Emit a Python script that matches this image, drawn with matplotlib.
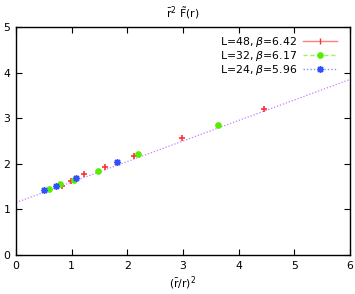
import matplotlib
matplotlib.use("Agg")
import matplotlib.pyplot as plt
import numpy as np
from matplotlib.lines import Line2D

# data
x48 = [0.83, 0.98, 1.23, 1.60, 2.12, 2.98, 4.46]
y48 = [1.52, 1.63, 1.77, 1.93, 2.18, 2.56, 3.21]
x32 = [0.60, 0.79, 1.04, 1.47, 2.19, 3.63]
y32 = [1.45, 1.56, 1.65, 1.85, 2.21, 2.85]
x24 = [0.51, 0.72, 1.08, 1.81]
y24 = [1.42, 1.52, 1.68, 2.03]
fit_intercept = 1.15
fit_slope = 0.45
labels = ["L=48, $\\beta$=6.42", "L=32, $\\beta$=6.17", "L=24, $\\beta$=5.96"]

plt.rcParams['font.family'] = ['DejaVu Sans']
plt.rcParams['mathtext.fontset'] = 'dejavusans'

fig = plt.figure(figsize=(3.55, 2.94), dpi=100)
ax = fig.add_axes([16/355, 1-255/294, (350-16)/355, (255-27)/294])

xl = np.array([0, 6])
ax.plot(xl, fit_intercept + fit_slope*xl, linestyle=(0, (1, 1.5)), color='#c080ff', lw=0.9, zorder=1)

red = '#ff3030'
green = '#55ee00'
blue = '#3050ff'
ax.errorbar(x48, y48, yerr=0.015, fmt='none', ecolor='#ff8080', capsize=0, zorder=2)
ax.plot(x48, y48, linestyle='none', marker='+', color=red, ms=5, mew=1.2, zorder=3)
ax.errorbar(x32, y32, yerr=0.015, fmt='none', ecolor='#a0f060', capsize=0, zorder=2)
ax.plot(x32, y32, linestyle='none', marker='o', color=green, ms=3.8, zorder=3)
ax.errorbar(x24, y24, yerr=0.015, fmt='none', ecolor='#8090ff', capsize=0, zorder=2)
ax.plot(x24, y24, linestyle='none', marker=(8, 2, 0), color=blue, ms=5, mew=1.0, zorder=3)

# legend proxies (gnuplot-like)
h1 = Line2D([], [], color='#ff8080', lw=1, marker='|', ms=5, mec=red, linestyle='-')
h2 = Line2D([], [], color='#a0f060', lw=1, linestyle=(0, (3, 2)), marker='o', ms=3.8, mfc=green, mec=green)
h3 = Line2D([], [], color='#8090ff', lw=1, linestyle=(0, (1, 1.5)), marker=(8, 2, 0), ms=5, mec=blue)
leg = ax.legend([h1, h2, h3], labels, loc='upper right', frameon=False, markerfirst=False,
                fontsize=7.8, handlelength=3.2, handletextpad=0.5, labelspacing=0.0,
                borderaxespad=0.3, bbox_to_anchor=(0.985, 1.0))

ax.set_xlim(0, 6)
ax.set_ylim(0, 5)
ax.set_xticks(range(0, 7))
ax.set_yticks(range(0, 6))
ax.tick_params(direction='in', top=True, right=True, labelsize=7.8, length=4, width=0.8, pad=4)
for s in ax.spines.values():
    s.set_linewidth(1.0)
ax.set_title(r"$\bar{\mathrm{r}}^2\ \tilde{\mathrm{F}}(\mathrm{r})$", fontsize=7.8, pad=7)
ax.set_xlabel(r"$(\bar{\mathrm{r}}/\mathrm{r})^2$", fontsize=7.8, labelpad=3)

fig.savefig("out.png", dpi=100)
